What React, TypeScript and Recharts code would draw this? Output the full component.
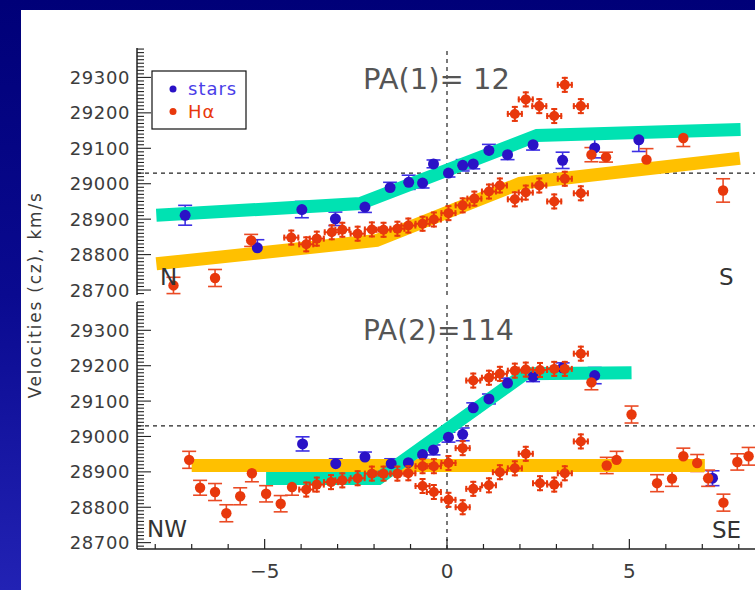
import React from "react";
import { ComposedChart, Scatter, XAxis, YAxis, ReferenceLine, ErrorBar } from "recharts";

const CYAN = "#00e2b2";
const GOLD = "#ffc000";
const BLUE = "#2a12c6";
const BLUE_ERR = "#3d2fe4";
const RED = "#e8380c";
const RED_ERR = "#ea4a24";
const INK = "#222";
const TXT = "#3c3c3c";
const FONT = "'DejaVu Sans', Verdana, sans-serif";

// ---- PA(1): offset along slit (arcsec), velocity cz (km/s), error (km/s)
const pa1StarsX = [-7.18, -5.2, -3.98, -3.06, -2.25, -1.56, -1.05, -0.67, -0.37, 0.04, 0.43, 0.72, 1.15, 1.66, 2.36, 3.17, 4.05, 5.26];
const pa1StarsV = [28911, 28819, 28927, 28901, 28934, 28989, 29004, 29002, 29056, 29030, 29052, 29056, 29094, 29082, 29110, 29066, 29101, 29124];
const pa1StarsE = [28, 23, 23, 19, 15, 15, 20, 14, 11, 11, 16, 14, 17, 14, 15, 23, 28, 33];

const pa1HaX = [-7.5, -6.36, -5.37, 3.96, 4.36, 5.47, 6.48, 7.57];
const pa1HaV = [28713, 28734, 28840, 29082, 29075, 29068, 29129, 28981];
const pa1HaE = [23, 24, 17, 20, 14, 31, 24, 33];

const pa1KnotX = [-4.27, -3.86, -3.57, -3.16, -2.87, -2.45, -2.06, -1.74, -1.36, -1.06, -0.67, -0.36, 0.04, 0.43, 0.75, 1.15, 1.45, 1.86, 2.16, 2.53, 2.94, 3.23, 3.67, 1.86, 2.16, 2.53, 2.94, 3.23, 3.67];
const pa1KnotV = [28848, 28829, 28845, 28863, 28870, 28859, 28871, 28870, 28873, 28882, 28887, 28899, 28917, 28939, 28958, 28978, 28995, 28956, 28975, 28995, 28950, 29014, 28973, 29197, 29238, 29219, 29191, 29279, 29219];

const pa1StarModelX = [-7.97, -2.38, 2.47, 8.05];
const pa1StarModelV = [28911, 28944, 29136, 29153];
const pa1GasModelX = [-7.97, -1.93, 2.0, 8.03];
const pa1GasModelV = [28774, 28840, 29001, 29072];

// ---- PA(2)
const pa2StarsX = [-3.96, -3.05, -2.25, -1.53, -1.06, -0.67, -0.37, 0.04, 0.43, 0.72, 1.15, 1.66, 2.36, 3.17, 4.05, 7.28];
const pa2StarsV = [28979, 28923, 28942, 28923, 28926, 28949, 28962, 28998, 29006, 29081, 29106, 29151, 29169, 29194, 29172, 28882];
const pa2StarsE = [20, 14, 14, 14, 14, 14, 14, 14, 18, 14, 14, 14, 14, 14, 23, 21];

const pa2HaX = [-7.07, -6.77, -6.36, -6.05, -5.67, -5.35, -4.96, -4.56, -4.25, 3.96, 4.38, 4.65, 5.06, 5.76, 6.17, 6.48, 6.86, 7.16, 7.58, 7.96, 8.27];
const pa2HaV = [28934, 28855, 28843, 28783, 28831, 28896, 28838, 28810, 28857, 29153, 28918, 28934, 29062, 28868, 28881, 28944, 28925, 28882, 28813, 28928, 28944];
const pa2HaE = [24, 21, 24, 24, 24, 24, 23, 23, 23, 21, 23, 24, 24, 24, 22, 23, 24, 23, 24, 23, 25];

const pa2KnotX = [-3.86, -3.57, -3.18, -2.87, -2.45, -2.06, -1.74, -1.36, -1.06, -0.67, -0.36, -0.67, -0.36, 0.04, 0.04, 0.43, 0.43, 0.72, 0.72, 1.15, 1.15, 1.45, 1.45, 1.86, 1.86, 2.16, 2.16, 2.55, 2.55, 2.94, 2.94, 3.23, 3.23, 3.67, 3.67];
const pa2KnotV = [28850, 28864, 28871, 28876, 28882, 28895, 28895, 28895, 28896, 28916, 28916, 28860, 28843, 28821, 28925, 28800, 28967, 29158, 28852, 29166, 28862, 29177, 28899, 29186, 28910, 29189, 28951, 29188, 28868, 29191, 28864, 29191, 28896, 29234, 28986];

const pa2StarModelX = [-4.96, -1.88, 2.14, 5.06];
const pa2StarModelV = [28881, 28881, 29177, 29180];
const pa2GasModelX = [-7.0, 7.07];
const pa2GasModelV = [28918, 28918];

const systemic = 29030;
const xTicks = [-8, -7, -6, -5, -4, -3, -2, -1, 0, 1, 2, 3, 4, 5, 6, 7, 8];
const xLabels: Record<number, string> = { [-5]: "\u22125", 0: "0", 5: "5" };
const yLabels = [28700, 28800, 28900, 29000, 29100, 29200, 29300];
const yMinor = Array.from({ length: 70 }, (_, i) => 28690 + i * 10);

const zip = (xs: number[], vs: number[], es?: number[]) =>
  xs.map((x, i) => ({ x, v: vs[i], e: es ? es[i] : 0 }));

const Empty = () => <g />;
const BlueDot = ({ cx, cy }: any) => <circle cx={cx} cy={cy} r={5.5} fill={BLUE} />;
const RedDot = ({ cx, cy }: any) => <circle cx={cx} cy={cy} r={5.2} fill={RED} />;
const Knot = ({ cx, cy }: any) => (
  <g stroke={RED} strokeWidth={2}>
    <line x1={cx - 8} x2={cx + 8} y1={cy} y2={cy} />
    <line x1={cx} x2={cx} y1={cy - 8} y2={cy + 8} />
    <line x1={cx - 3} x2={cx + 3} y1={cy - 7} y2={cy - 7} />
    <line x1={cx - 3} x2={cx + 3} y1={cy + 7} y2={cy + 7} />
    <line x1={cx - 7} x2={cx - 7} y1={cy - 3} y2={cy + 3} />
    <line x1={cx + 7} x2={cx + 7} y1={cy - 3} y2={cy + 3} />
    <circle cx={cx} cy={cy} r={5} fill={RED} stroke="none" />
  </g>
);

const YTick = ({ x, y, payload, side }: any) => {
  const v = payload.value;
  const major = v % 100 === 0;
  const len = major ? 14 : 7;
  const d = side === "left" ? 1 : -1;
  return (
    <g>
      <line x1={x} x2={x + d * len} y1={y} y2={y} stroke={INK} strokeWidth={1.1} />
      {side === "left" && yLabels.includes(v) && (
        <text x={x - 7} y={y} dy="0.36em" textAnchor="end" fontFamily={FONT} fontSize={18} letterSpacing={0.6} fill={TXT}>
          {v}
        </text>
      )}
    </g>
  );
};

const XTick = ({ x, y, payload, side, showLabel }: any) => {
  const v = payload.value;
  const major = xLabels[v] !== undefined;
  const len = major ? 10 : 5;
  const d = side === "bottom" ? -1 : 1;
  return (
    <g>
      <line x1={x} x2={x} y1={y} y2={y + d * len} stroke={INK} strokeWidth={1.2} />
      {showLabel && major && (
        <text x={x} y={y + 22} dy="0.36em" textAnchor="middle" fontFamily={FONT} fontSize={20} fill={TXT}>
          {xLabels[v]}
        </text>
      )}
    </g>
  );
};

const axisLine = { stroke: INK, strokeWidth: 1.5 };

function Panel({ top, height, marginTop, marginBottom, xHeight, domain, showX, starModel, gasModel, stars, ha, knots }: any) {
  return (
    <div style={{ position: "absolute", left: 0, top }}>
      <ComposedChart width={760} height={height} margin={{ top: marginTop, right: 3, bottom: marginBottom, left: 0 }}>
        <XAxis dataKey="x" type="number" domain={[-8.5, 8.5]} allowDataOverflow ticks={xTicks} interval={0}
          height={xHeight} tickSize={0} tickMargin={0} tickLine={false} axisLine={axisLine}
          tick={(p: any) => <XTick {...p} side="bottom" showLabel={showX} />} />
        <XAxis xAxisId="top" orientation="top" dataKey="x" type="number" domain={[-8.5, 8.5]} allowDataOverflow
          ticks={xTicks} interval={0} height={0} tickSize={0} tickMargin={0} tickLine={false} axisLine={axisLine}
          tick={(p: any) => <XTick {...p} side="top" showLabel={false} />} />
        <YAxis dataKey="v" type="number" domain={domain} allowDataOverflow ticks={yMinor} interval={0} width={137}
          tickSize={0} tickMargin={0} tickLine={false} axisLine={axisLine}
          tick={(p: any) => <YTick {...p} side="left" />} />
        <YAxis yAxisId="right" orientation="right" dataKey="v" type="number" domain={domain} allowDataOverflow
          ticks={yMinor} interval={0} width={0} tickSize={0} tickMargin={0} tickLine={false} axisLine={axisLine}
          tick={(p: any) => <YTick {...p} side="right" />} />
        <ReferenceLine y={systemic} stroke={INK} strokeDasharray="4 4" strokeWidth={1.2} />
        <ReferenceLine x={0} stroke={INK} strokeDasharray="4 4" strokeWidth={1.2} />
        <Scatter data={gasModel} shape={Empty} line={{ stroke: GOLD, strokeWidth: 13 }} lineType="joint" isAnimationActive={false} />
        <Scatter data={starModel} shape={Empty} line={{ stroke: CYAN, strokeWidth: 13 }} lineType="joint" isAnimationActive={false} />
        <Scatter data={stars} shape={BlueDot} isAnimationActive={false}>
          <ErrorBar dataKey="e" direction="y" width={7} stroke={BLUE_ERR} strokeWidth={1.6} />
        </Scatter>
        <Scatter data={ha} shape={RedDot} isAnimationActive={false}>
          <ErrorBar dataKey="e" direction="y" width={7} stroke={RED_ERR} strokeWidth={1.6} />
        </Scatter>
        <Scatter data={knots} shape={Knot} isAnimationActive={false} />
      </ComposedChart>
    </div>
  );
}

export default function App() {
  const txt = { fontFamily: FONT, fill: "#333" };
  return (
    <div style={{ position: "absolute", left: 0, top: 0, width: 755, height: 590, overflow: "hidden",
      background: "linear-gradient(180deg, #000078 0%, #0a0a90 50%, #2222b4 100%)" }}>
      <div style={{ position: "absolute", left: 21, top: 10, right: 0, bottom: 0, background: "#fff" }} />
      <Panel top={0} height={300} marginTop={48} marginBottom={5} xHeight={0} domain={[28686, 29383]} showX={false}
        starModel={zip(pa1StarModelX, pa1StarModelV)} gasModel={zip(pa1GasModelX, pa1GasModelV)}
        stars={zip(pa1StarsX, pa1StarsV, pa1StarsE)} ha={zip(pa1HaX, pa1HaV, pa1HaE)} knots={zip(pa1KnotX, pa1KnotV)} />
      <Panel top={296} height={294} marginTop={6} marginBottom={0} xHeight={41} domain={[28682, 29380]} showX={true}
        starModel={zip(pa2StarModelX, pa2StarModelV)} gasModel={zip(pa2GasModelX, pa2GasModelV)}
        stars={zip(pa2StarsX, pa2StarsV, pa2StarsE)} ha={zip(pa2HaX, pa2HaV, pa2HaE)} knots={zip(pa2KnotX, pa2KnotV)} />
      <svg width={755} height={590} style={{ position: "absolute", left: 0, top: 0, pointerEvents: "none" }}>
        <text transform="translate(41,295) rotate(-90)" textAnchor="middle" fontSize={17} letterSpacing={1.8} fontFamily={FONT} fill={TXT}>
          Velocities (cz),  km/s
        </text>
        <rect x={152} y={71} width={94} height={58} fill="#fff" stroke="#111" strokeWidth={1.2} />
        <circle cx={173} cy={89} r={3.5} fill={BLUE} />
        <text x={188} y={95} fontSize={18} letterSpacing={1} fontFamily={FONT} fill="#4a3ee8">stars</text>
        <circle cx={173} cy={111.5} r={3.5} fill={RED} />
        <text x={188} y={118} fontSize={18} letterSpacing={1} fontFamily={FONT} fill={RED}>Hα</text>
        <text x={363} y={89} fontSize={29} {...txt} fill="#555">PA(1)= 12</text>
        <text x={363} y={340} fontSize={28} {...txt} fill="#555">PA(2)=114</text>
        <text x={160} y={285} fontSize={23} {...txt}>N</text>
        <text x={719} y={285} fontSize={23} {...txt}>S</text>
        <text x={147} y={537} fontSize={23} {...txt}>NW</text>
        <text x={712} y={538} fontSize={23} {...txt}>SE</text>
      </svg>
    </div>
  );
}
